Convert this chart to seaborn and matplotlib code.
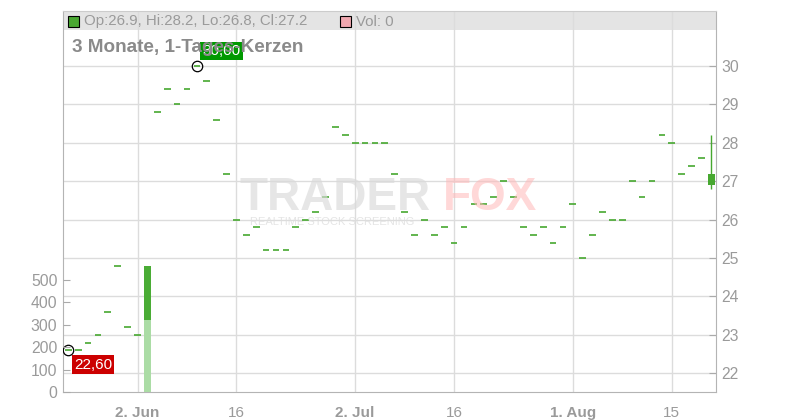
import numpy as np
import pandas as pd
import matplotlib
matplotlib.use("Agg")
import matplotlib.pyplot as plt
from matplotlib.patches import Rectangle
import seaborn as sns

# daily closes (open == close on most days), trading-day index
close = [22.6, 22.6, 22.8, 23.0, 23.6, 24.8, 23.2, 23.0, 24.0, 28.8,
         29.4, 29.0, 29.4, 30.0, 29.6, 28.6, 27.2, 26.0, 25.6, 25.8,
         25.2, 25.2, 25.2, 25.8, 26.0, 26.2, 26.6, 28.4, 28.2, 28.0,
         28.0, 28.0, 28.0, 27.2, 26.2, 25.6, 26.0, 25.6, 25.8, 25.4,
         25.8, 26.4, 26.4, 26.6, 27.0, 26.6, 25.8, 25.6, 25.8, 25.4,
         25.8, 26.4, 25.0, 25.6, 26.2, 26.0, 26.0, 27.0, 26.6, 27.0,
         28.2, 28.0, 27.2, 27.4, 27.6]
last_open, last_high, last_low, last_close = 26.9, 28.2, 26.8, 27.2

vol_total = [0] * 66
vol_lower = [0] * 66
vol_total[8] = 564
vol_lower[8] = 322

tick_pos = [7, 17, 29, 39, 51, 61]
tick_labels = ["2. Jun", "16", "2. Jul", "16", "1. Aug", "15"]
month_start = [True, False, True, False, True, False]

price_ticks = [22, 23, 24, 25, 26, 27, 28, 29, 30]
vol_ticks = [0, 100, 200, 300, 400, 500]

GREEN = "#47a830"
GRID = "#dcdcdc"
TXT = "#9a9a9a"

sns.set_style("white")
plt.rcParams["font.family"] = ["Liberation Sans", "DejaVu Sans"]

W, H = 800, 420
fig = plt.figure(figsize=(8, 4.2), dpi=100)
left, right, top, bottom = 63, 716, 11, 392
ax = fig.add_axes([left / W, 1 - bottom / H, (right - left) / W, (bottom - top) / H])
axv = ax.twinx()

idx = np.arange(len(close))
df = pd.DataFrame({"idx": np.arange(66), "total": vol_total, "lower": vol_lower})

# price axis on the right
ax.set_xlim(-0.53, 65.47)
ax.set_ylim(21.513, 31.432)
ax.set_yticks(price_ticks)
ax.set_xticks(tick_pos)
ax.set_xticklabels(tick_labels)
for lab, bold in zip(ax.get_xticklabels(), month_start):
    lab.set_fontweight("bold" if bold else "normal")
ax.grid(True, color=GRID, lw=1)
ax.set_axisbelow(True)
ax.tick_params(axis="y", direction="in", length=5, color="#aaaaaa",
               labelsize=11.3, labelcolor=TXT, pad=4,
               right=True, left=False, labelright=True, labelleft=False)
ax.tick_params(axis="x", direction="out", length=4, color="#aaaaaa",
               labelsize=11, labelcolor=TXT, pad=6)
for s in ["left", "right", "bottom"]:
    ax.spines[s].set_color("#b4b4b4")
ax.spines["top"].set_color("#cccccc")

# grey legend band at the top
band_h = 19 / (bottom - top)
ax.add_patch(Rectangle((0, 1 - band_h), 1, band_h, transform=ax.transAxes,
                       color="#e4e4e4", zorder=0.4, lw=0))

# watermark
fig.text(240 / W, 1 - 210 / H, "TRADER", fontsize=33, fontweight="heavy",
         color="#d9d9d9", alpha=0.65, zorder=0.5)
fig.text(443 / W, 1 - 210 / H, "FOX", fontsize=33, fontweight="heavy",
         color="#ffb8b8", alpha=0.55, zorder=0.5)
fig.text(250 / W, 1 - 225 / H, "REALTIME STOCK SCREENING", fontsize=8,
         color="#dedede", alpha=0.8, zorder=0.5)

# doji dashes
ax.hlines(close, idx - 0.34, idx + 0.34, color=GREEN, lw=1.2, zorder=3)
# last candle
ax.vlines(65, last_low, last_high, color=GREEN, lw=1, zorder=3)
ax.add_patch(Rectangle((65 - 0.34, last_open), 0.68, last_close - last_open,
                       color=GREEN, zorder=3, lw=0))

# min / max markers and labels
i_min = int(np.argmin(close))
i_max = int(np.argmax(close))
ax.plot([i_min, i_max], [close[i_min], close[i_max]], "o", ms=7.5,
        mfc="none", mec="black", mew=0.9, zorder=4)
ax.annotate(f"{close[i_min]:.2f}".replace(".", ","), (i_min, close[i_min]),
            xytext=(17.8, -10.3), textcoords="offset points", ha="center",
            va="center", color="white", fontsize=11, zorder=5,
            bbox=dict(boxstyle="square,pad=0.15", fc="#cc0000", ec="none"))
ax.annotate(f"{close[i_max]:.2f}".replace(".", ","), (i_max, close[i_max]),
            xytext=(17.6, 10.7), textcoords="offset points", ha="center",
            va="center", color="white", fontsize=11, zorder=5,
            bbox=dict(boxstyle="square,pad=0.15", fc="#009900", ec="none"))

# volume axis on the left
sns.barplot(data=df, x="idx", y="total", native_scale=True, width=0.7,
            color="#4aac35", saturation=1, linewidth=0, ax=axv)
sns.barplot(data=df, x="idx", y="lower", native_scale=True, width=0.7,
            color="#abdca5", saturation=1, linewidth=0, ax=axv)
axv.set_xlim(-0.53, 65.47)
axv.set_ylim(0, 1701)
axv.set_yticks(vol_ticks)
axv.set_xlabel("")
axv.set_ylabel("")
axv.tick_params(axis="y", direction="in", length=5, color="#aaaaaa",
                labelsize=11.3, labelcolor=TXT, pad=4,
                left=True, right=False, labelleft=True, labelright=False)
for s in axv.spines.values():
    s.set_visible(False)

# legend and title in the band
fig.patches.append(Rectangle((68 / W, 1 - 27 / H), 11 / W, 11 / H,
                             transform=fig.transFigure, fc="#4aa832",
                             ec="black", lw=0.8, figure=fig))
fig.text(84 / W, 1 - 21.5 / H, "Op:26.9, Hi:28.2, Lo:26.8, Cl:27.2",
         fontsize=10.8, color=TXT, va="center")
fig.patches.append(Rectangle((340 / W, 1 - 27 / H), 11 / W, 11 / H,
                             transform=fig.transFigure, fc="#f0a8b0",
                             ec="black", lw=0.8, figure=fig))
fig.text(356 / W, 1 - 21.5 / H, "Vol: 0", fontsize=10.8, color=TXT, va="center")
fig.text(72 / W, 1 - 48 / H, "3 Monate, 1-Tages-Kerzen", fontsize=13.6,
         fontweight="bold", color="#8a8a8a", va="center", zorder=10)

fig.savefig("out.png", dpi=100)
